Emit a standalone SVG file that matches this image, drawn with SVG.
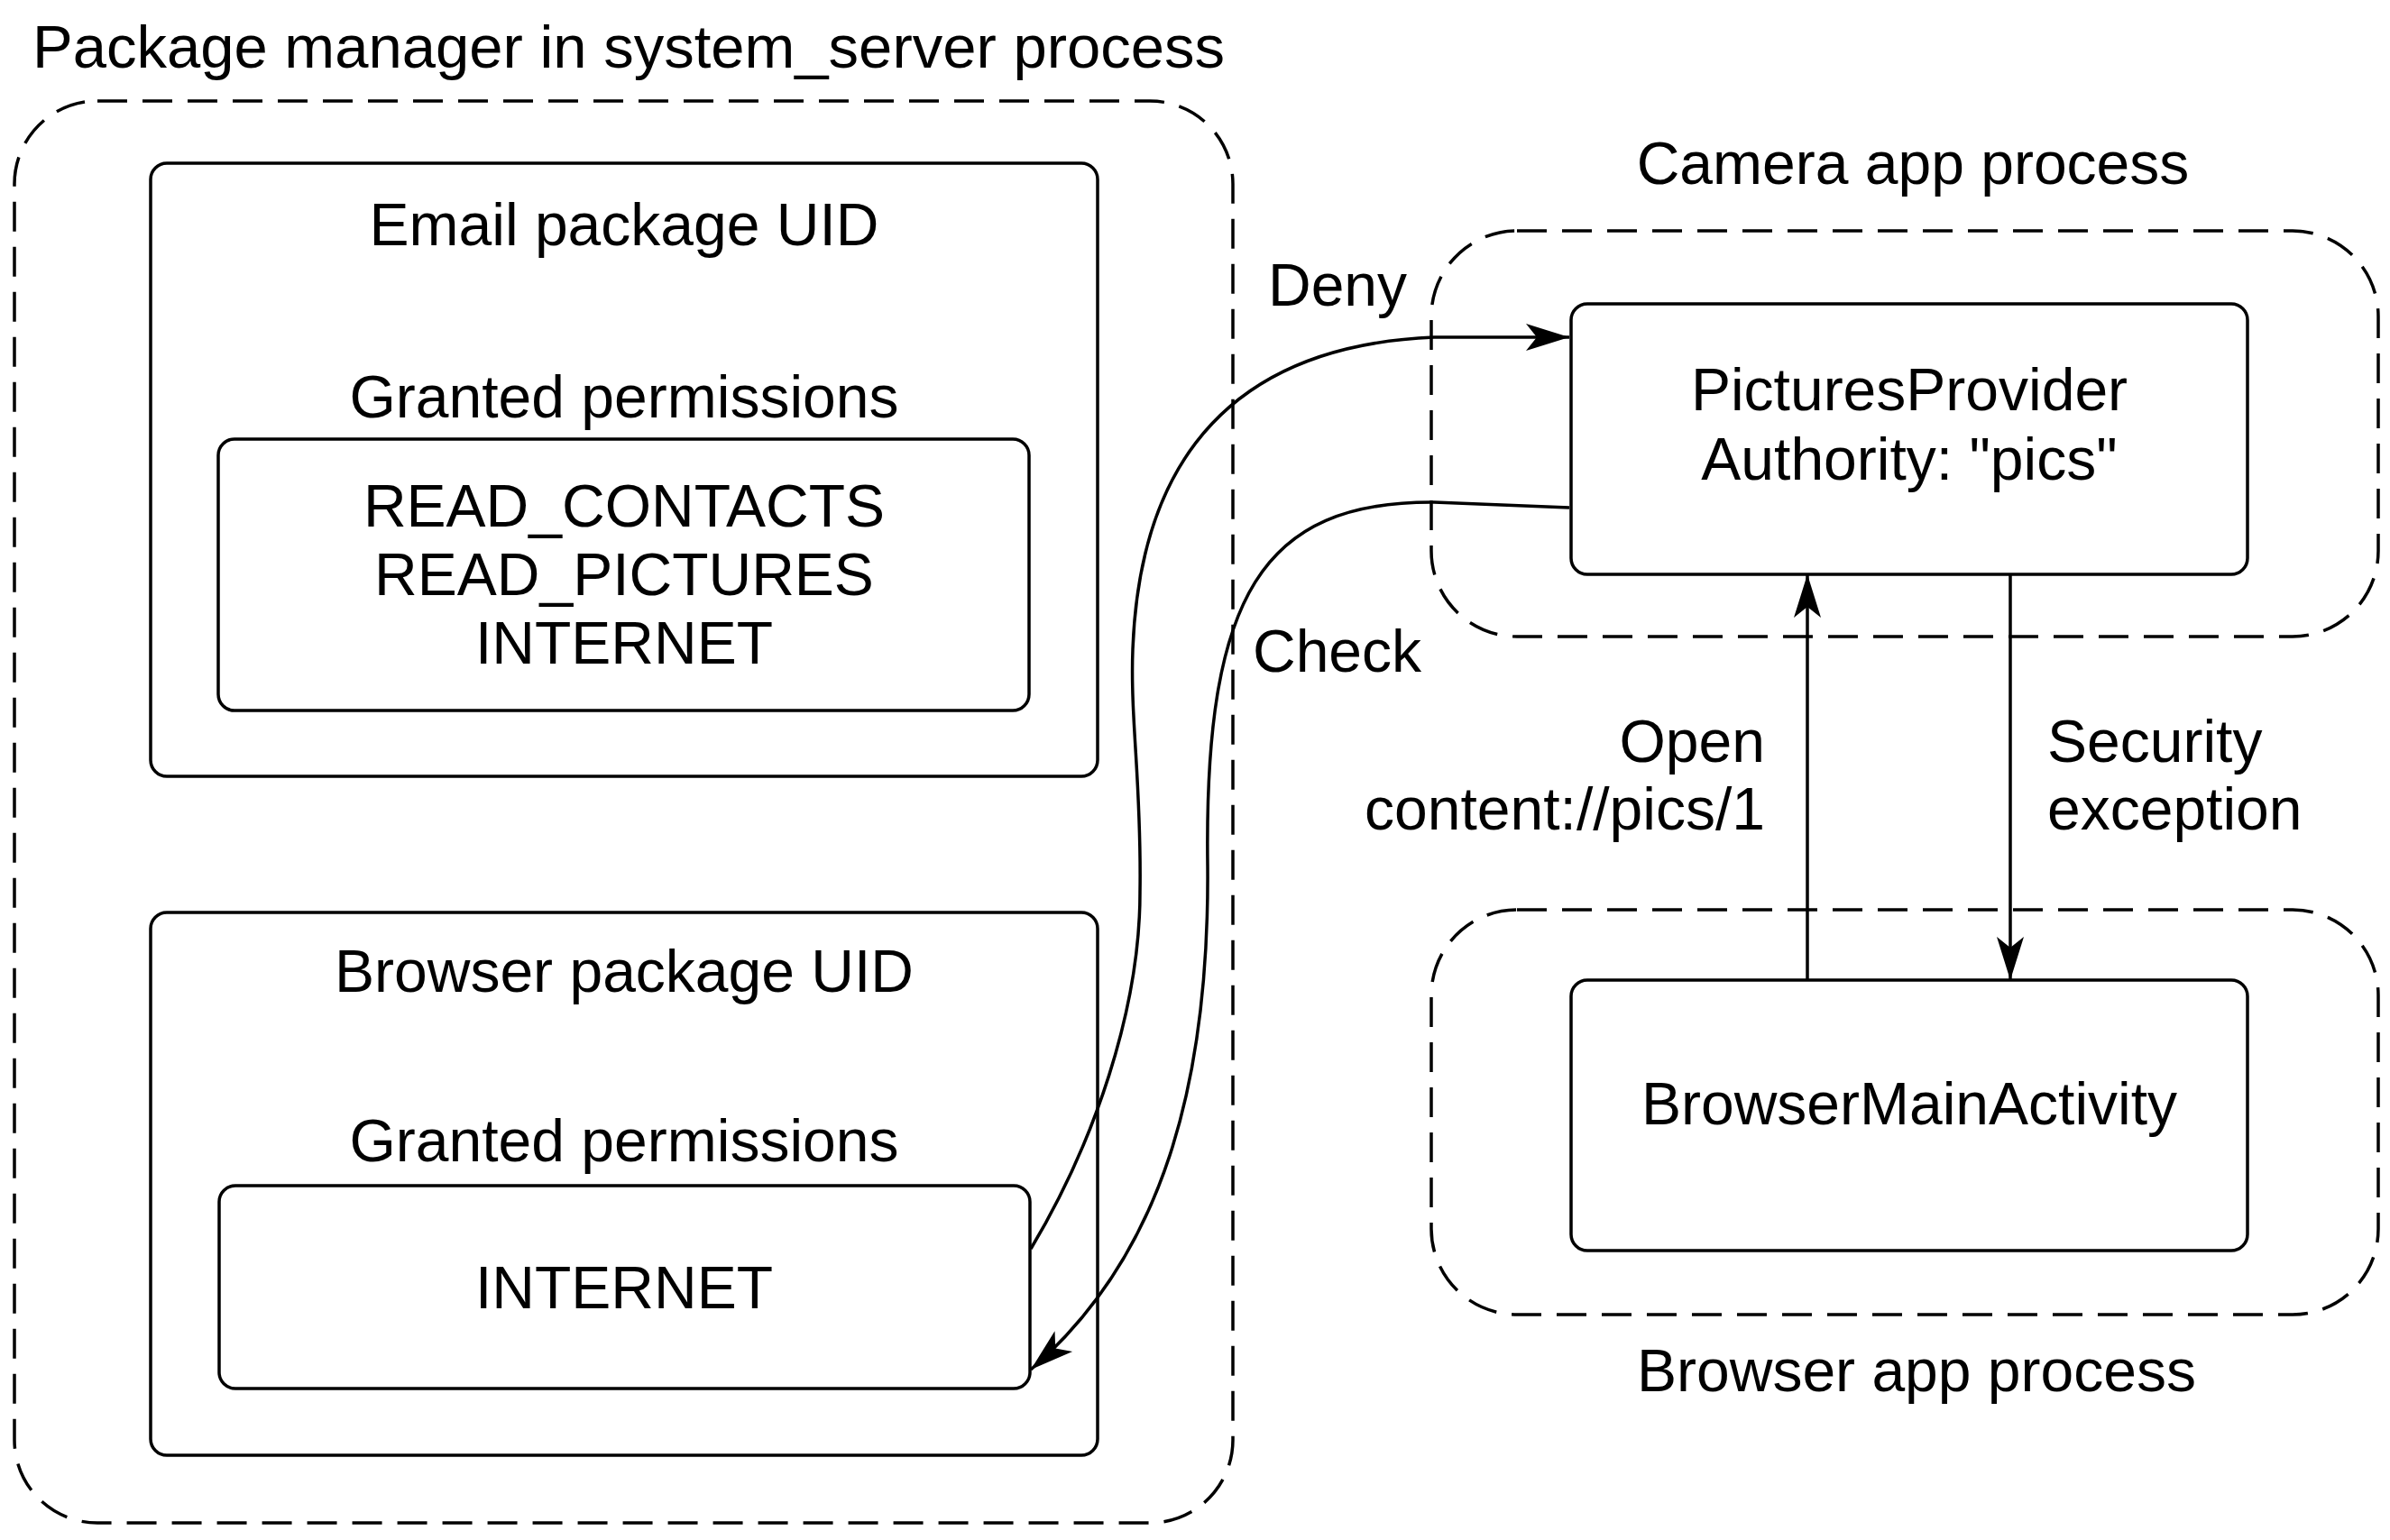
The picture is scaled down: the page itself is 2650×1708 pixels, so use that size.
<svg xmlns="http://www.w3.org/2000/svg" width="2650" height="1708" viewBox="0 0 2650 1708">
<style>
  text { font-family: "Liberation Sans", Arial, Helvetica, sans-serif; font-size: 66px; fill: #000; }
  .c { text-anchor: middle; }
  .e { text-anchor: end; }
  .title { font-size: 67px; }
  .proc { fill: none; stroke: #000; stroke-width: 3.5; stroke-dasharray: 33 17; }
  .box { fill: #fff; stroke: #000; stroke-width: 3.5; }
  .edge { fill: none; stroke: #000; stroke-width: 3.5; }
</style>
<defs>
  <marker id="arr" viewBox="-50 -20 52 40" refX="0" refY="0" markerWidth="52" markerHeight="40" markerUnits="userSpaceOnUse" orient="auto">
    <path d="M0,0 L-48,-15 L-36,0 L-48,15 Z" fill="#000"/>
  </marker>
</defs>
<rect width="2650" height="1708" fill="#fff"/>

<g id="pm-process">
  <rect class="proc" x="16" y="112" width="1351" height="1577" rx="92" ry="92"/>
  <text class="title" x="36" y="75">Package manager in system_server process</text>
</g>

<g id="email-uid">
  <rect class="box" x="167" y="181" width="1050" height="680" rx="18" ry="18"/>
  <text class="c" x="692" y="272">Email package UID</text>
  <text class="c" x="692" y="463">Granted permissions</text>
</g>
<g id="email-perms">
  <rect class="box" x="242" y="487" width="899" height="301" rx="18" ry="18"/>
  <text class="c" x="692" y="584">READ_CONTACTS</text>
  <text class="c" x="692" y="660">READ_PICTURES</text>
  <text class="c" x="692" y="736">INTERNET</text>
</g>

<g id="browser-uid">
  <rect class="box" x="167" y="1012" width="1050" height="602" rx="18" ry="18"/>
  <text class="c" x="692" y="1100">Browser package UID</text>
  <text class="c" x="692" y="1288">Granted permissions</text>
</g>
<g id="browser-perms">
  <rect class="box" x="243" y="1315" width="899" height="225" rx="18" ry="18"/>
  <text class="c" x="692" y="1451">INTERNET</text>
</g>

<g id="camera-process">
  <rect class="proc" x="1587" y="256" width="1050" height="450" rx="95" ry="95"/>
  <text class="c" x="2121" y="204">Camera app process</text>
</g>
<g id="pictures-provider">
  <rect class="box" x="1742" y="337" width="750" height="300" rx="18" ry="18"/>
  <text class="c" x="2117" y="455">PicturesProvider</text>
  <text class="c" x="2117" y="532">Authority: "pics"</text>
</g>

<g id="browser-process">
  <rect class="proc" x="1587" y="1009" width="1050" height="449" rx="95" ry="95"/>
  <text class="c" x="2125" y="1543">Browser app process</text>
</g>
<g id="browser-main-activity">
  <rect class="box" x="1742" y="1087" width="750" height="300" rx="18" ry="18"/>
  <text class="c" x="2117" y="1247">BrowserMainActivity</text>
</g>

<g id="connectors">
  <path class="edge" marker-end="url(#arr)" d="M1143,1385 C1213,1268 1264,1120 1264,990 C1266,870 1253,800 1256,720 C1262,560 1325,385 1590,374 L1740,374"/>
  <path class="edge" marker-end="url(#arr)" d="M1740,563 L1590,557 C1400,556 1335,660 1339,960 C1341,1200 1290,1392 1143,1519"/>
  <line class="edge" marker-end="url(#arr)" x1="2004" y1="1087" x2="2004" y2="637"/>
  <line class="edge" marker-end="url(#arr)" x1="2229" y1="637" x2="2229" y2="1087"/>
  <text x="1406" y="339">Deny</text>
  <text x="1389" y="745">Check</text>
  <text class="e" x="1957" y="845">Open</text>
  <text class="e" x="1957" y="920">content://pics/1</text>
  <text x="2270" y="845">Security</text>
  <text x="2270" y="920">exception</text>
</g>
</svg>
